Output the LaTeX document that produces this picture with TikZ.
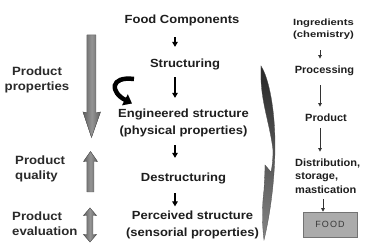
\documentclass[tikz,border=0pt]{standalone}
\usepackage{fontspec}
\setmainfont{Liberation Sans}[FakeStretch=1.1]
\newfontfamily\rgtf{Liberation Sans}[FakeStretch=1.05]
\newfontfamily\ingf{Liberation Sans}[FakeStretch=1.25]
\newfontfamily\foodf{Liberation Sans}[LetterSpace=12]
\usetikzlibrary{arrows.meta}
\definecolor{txt}{HTML}{1E1E1E}
\definecolor{labtxt}{HTML}{2A2A2A}
\begin{document}
\begin{tikzpicture}[x=1pt,y=-1pt,
  mid/.style={font=\fontsize{11.8}{17}\selectfont\bfseries, text=txt, inner sep=0pt, align=center},
  lab/.style={font=\fontsize{12}{15}\selectfont\bfseries, text=labtxt, inner sep=0pt},
  rgt/.style={font=\rgtf\fontsize{10.5}{13.3}\selectfont\bfseries, text=txt, inner sep=0pt},
  arr/.style={line width=1.2pt, -{Triangle[length=5pt,width=5.5pt]}},
  sarr/.style={line width=0.8pt, draw=black!80, -{Triangle[length=3.5pt,width=3.5pt]}},
  blk/.style={draw=black!65, line width=0.4pt, left color=black!62, right color=black!62, middle color=black!42},
  swoosh/.style={draw=black!70, line width=0.3pt, top color=black!85, bottom color=black!48}]
\useasboundingbox (0,0) rectangle (368,251);
\fill[white] (0,0) rectangle (368,251);

% centre column
\node[mid] (fc) at (182,20) {Food Components};
\node[mid] (st) at (185,64) {Structuring};
\node[mid] (eng) at (183.5,122.5) {Engineered structure\\(physical properties)};
\node[mid] (des) at (183.5,178) {Destructuring};
\node[mid] (per) at (192.5,225) {Perceived structure\\(sensorial properties)};
\coordinate (ax) at (175,0);
\draw[arr, shorten <=11.5pt, shorten >=11.4pt] (fc.south -| ax) -- (st.north -| ax);
\draw[arr, shorten <=7.5pt, shorten >=10.4pt] (st.south -| ax) -- (eng.north -| ax);
\draw[arr, shorten <=8.5pt, shorten >=14.4pt] (eng.south -| ax) -- (des.north -| ax);
\draw[arr, shorten <=9.5pt, shorten >=4.4pt] (des.south -| ax) -- (per.north -| ax);

% left labels
\node[lab, align=center] (pp) at (37,80) {Product\\properties};
\node[lab, align=left, anchor=west] (pq) at (15,168.5) {Product\\quality};
\node[lab, align=left, anchor=west] (pe) at (12,223.5) {Product\\evaluation};

% big grey arrows
\fill[blk] (87,35) -- (96,35) -- (96,113) -- (100.5,112) -- (91.5,137.5) -- (83,112) -- (87,113) -- cycle;
\fill[blk] (90.5,151.5) -- (97.5,161.5) -- (94,161) -- (94,192) -- (87,192) -- (87,161) -- (83.5,161.5) -- cycle;
\fill[blk] (90,208) -- (96.5,215.5) -- (93,215) -- (93,235) -- (96.5,234.5) -- (90,242) -- (83.5,234.5) -- (87,235) -- (87,215) -- (83.5,215.5) -- cycle;

% black curved arrow
\draw[line width=4.5pt, -{Triangle[length=8pt,width=12pt]}] (134,79) .. controls (110,76) and (110,92) .. (132,103.5);

% grey swoosh
\path[swoosh] (261,66) .. controls (269,78) and (275,110) .. (275,145)
  .. controls (275,180) and (270,215) .. (264,240)
  .. controls (262,225) and (262,205) .. (264,190)
  .. controls (264.5,180) and (265,172) .. (265,165)
  -- (271,172)
  .. controls (272.5,165) and (273,158) .. (273,150)
  .. controls (270,125) and (262,105) .. (261,80) -- cycle;

% right column
\node[inner sep=0pt, text=txt, font=\ingf\fontsize{9}{12}\selectfont\bfseries, align=center] (ing) at (323.5,29.1) {Ingredients\\(chemistry)};
\node[rgt] (pro) at (324.5,70.9) {Processing};
\node[rgt] (prd) at (326,117.9) {Product};
\node[rgt, align=left, anchor=west] (dis) at (295,176.2) {Distribution,\\storage,\\mastication};
\node[draw=black!55, line width=0.6pt, fill=black!33, minimum width=54pt, minimum height=25pt, inner sep=0pt,
  text=black!78, font=\foodf\fontsize{9}{10}\selectfont] (food) at (330,224.5) {FOOD};
\coordinate (rx) at (320,0);
\coordinate (rx2) at (323,0);
\draw[sarr, shorten <=10.6pt, shorten >=7.2pt] (ing.south -| rx) -- (pro.north -| rx);
\draw[sarr, shorten <=9.4pt, shorten >=7.2pt] (pro.south -| rx) -- (prd.north -| rx);
\draw[sarr, shorten <=6.5pt, shorten >=7.2pt] (prd.south -| rx) -- (dis.north -| rx);
\draw[sarr, shorten <=5.9pt] (dis.south -| rx2) -- (food.north -| rx2);
\end{tikzpicture}
\end{document}
